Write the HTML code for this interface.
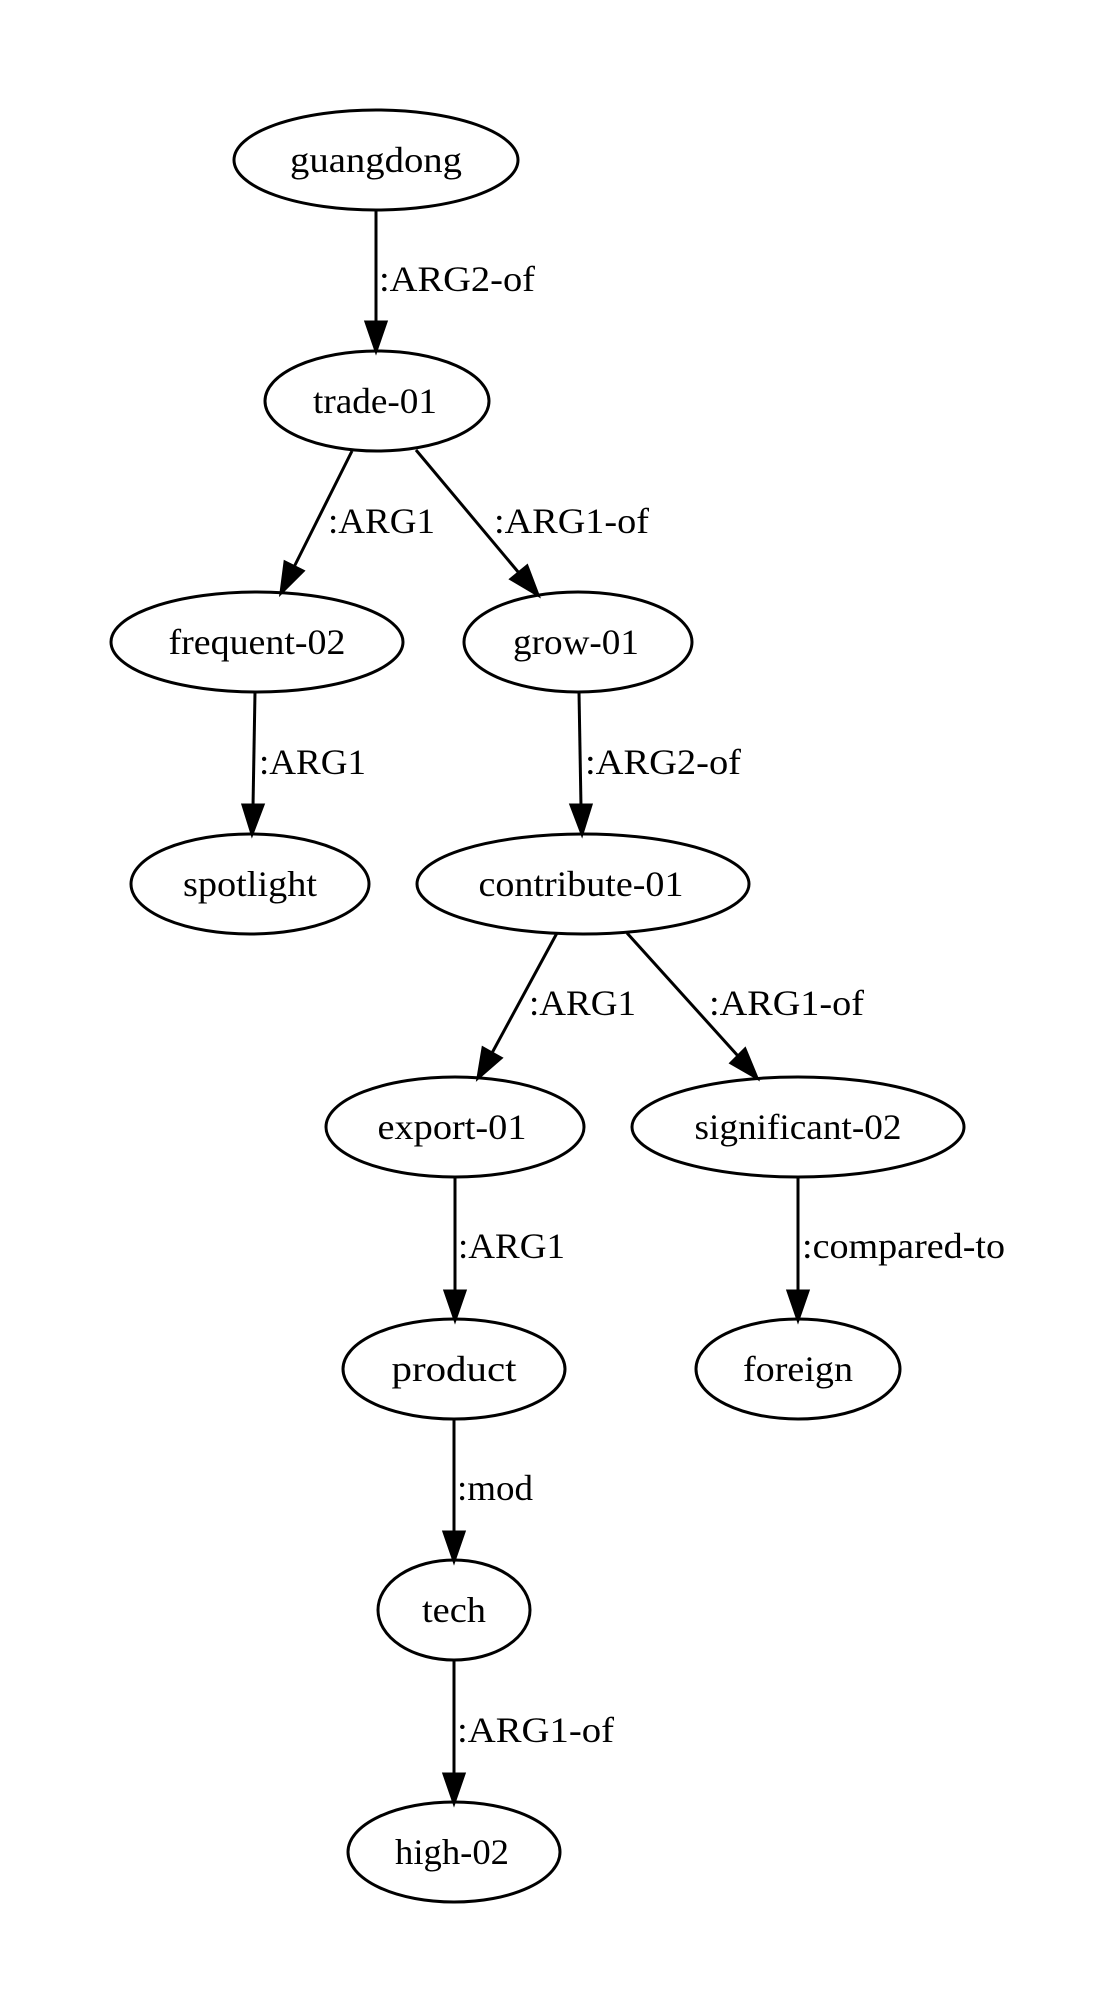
<!DOCTYPE html>
<html><head><meta charset="utf-8"><style>
html,body{margin:0;padding:0;background:#fff;}
svg{display:block;}
text{font-family:"Liberation Serif","DejaVu Serif",serif;font-size:36px;fill:#000;}
</style></head><body>
<svg width="1117" height="2014" viewBox="0 0 1117 2014" xmlns="http://www.w3.org/2000/svg">
<g fill="none" stroke="#000" stroke-width="3">
<ellipse cx="376" cy="160" rx="142" ry="50"/>
<ellipse cx="377" cy="401" rx="112" ry="50"/>
<ellipse cx="257" cy="642" rx="146" ry="50"/>
<ellipse cx="578" cy="642" rx="114" ry="50"/>
<ellipse cx="250" cy="884" rx="119" ry="50"/>
<ellipse cx="583" cy="884" rx="166" ry="50"/>
<ellipse cx="455" cy="1127" rx="129" ry="50"/>
<ellipse cx="798" cy="1127" rx="166" ry="50"/>
<ellipse cx="454" cy="1369" rx="111" ry="50"/>
<ellipse cx="798" cy="1369" rx="102" ry="50"/>
<ellipse cx="454" cy="1610" rx="76" ry="50"/>
<ellipse cx="454" cy="1852" rx="106" ry="50"/>
</g>
<g stroke="#000" stroke-width="3" fill="#000">
<line x1="376" y1="210" x2="376" y2="324"/><path d="M366,322 L386,322 L376,351 z"/>
<line x1="352" y1="451" x2="294" y2="567"/><path d="M303,571 L285,562 L281,593 z"/>
<line x1="416" y1="450" x2="519" y2="573"/><path d="M527,566 L511,579 L538,595 z"/>
<line x1="255" y1="692" x2="253" y2="807"/><path d="M243,805 L263,805 L252,834 z"/>
<line x1="579" y1="692" x2="581" y2="807"/><path d="M571,805 L591,805 L582,834 z"/>
<line x1="557" y1="933" x2="492" y2="1053"/><path d="M501,1058 L483,1048 L478,1078 z"/>
<line x1="627" y1="933" x2="738" y2="1056"/><path d="M745,1049 L731,1063 L757,1078 z"/>
<line x1="455" y1="1177" x2="455" y2="1293"/><path d="M445,1291 L465,1291 L455,1320 z"/>
<line x1="798" y1="1177" x2="798" y2="1293"/><path d="M788,1291 L808,1291 L798,1320 z"/>
<line x1="454" y1="1419" x2="454" y2="1534"/><path d="M444,1532 L464,1532 L454,1561 z"/>
<line x1="454" y1="1660" x2="454" y2="1776"/><path d="M444,1774 L464,1774 L454,1803 z"/>
</g>
<g text-anchor="middle">
<text x="376" y="172" textLength="172" lengthAdjust="spacingAndGlyphs">guangdong</text>
<text x="375" y="413" textLength="124" lengthAdjust="spacingAndGlyphs">trade-01</text>
<text x="257" y="654" textLength="177" lengthAdjust="spacingAndGlyphs">frequent-02</text>
<text x="576" y="654" textLength="126" lengthAdjust="spacingAndGlyphs">grow-01</text>
<text x="250" y="896" textLength="134" lengthAdjust="spacingAndGlyphs">spotlight</text>
<text x="581" y="896" textLength="205" lengthAdjust="spacingAndGlyphs">contribute-01</text>
<text x="452" y="1139" textLength="149" lengthAdjust="spacingAndGlyphs">export-01</text>
<text x="798" y="1139" textLength="207" lengthAdjust="spacingAndGlyphs">significant-02</text>
<text x="454" y="1381" textLength="125" lengthAdjust="spacingAndGlyphs">product</text>
<text x="798" y="1381" textLength="110" lengthAdjust="spacingAndGlyphs">foreign</text>
<text x="454" y="1622" textLength="64" lengthAdjust="spacingAndGlyphs">tech</text>
<text x="452" y="1864" textLength="114" lengthAdjust="spacingAndGlyphs">high-02</text>
</g>
<g>
<text x="379" y="291" textLength="156" lengthAdjust="spacingAndGlyphs">:ARG2-of</text>
<text x="328" y="533" textLength="107" lengthAdjust="spacingAndGlyphs">:ARG1</text>
<text x="494" y="533" textLength="155" lengthAdjust="spacingAndGlyphs">:ARG1-of</text>
<text x="259" y="774" textLength="107" lengthAdjust="spacingAndGlyphs">:ARG1</text>
<text x="585" y="774" textLength="156" lengthAdjust="spacingAndGlyphs">:ARG2-of</text>
<text x="529" y="1015" textLength="107" lengthAdjust="spacingAndGlyphs">:ARG1</text>
<text x="709" y="1015" textLength="155" lengthAdjust="spacingAndGlyphs">:ARG1-of</text>
<text x="458" y="1258" textLength="107" lengthAdjust="spacingAndGlyphs">:ARG1</text>
<text x="802" y="1258" textLength="203" lengthAdjust="spacingAndGlyphs">:compared-to</text>
<text x="457" y="1500" textLength="76" lengthAdjust="spacingAndGlyphs">:mod</text>
<text x="457" y="1742" textLength="157" lengthAdjust="spacingAndGlyphs">:ARG1-of</text>
</g>
</svg>
</body></html>
